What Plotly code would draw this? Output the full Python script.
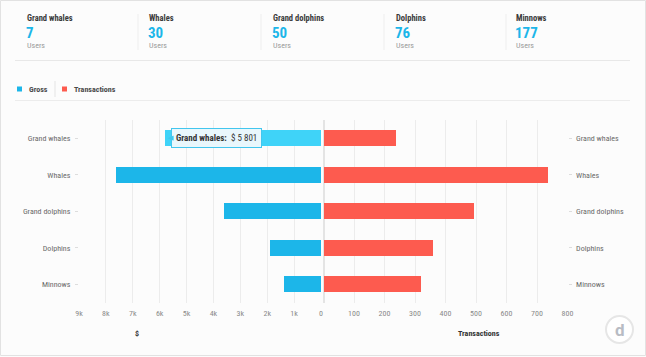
import plotly.graph_objects as go

categories = ["Grand whales", "Whales", "Grand dolphins", "Dolphins", "Minnows"]
users = [7, 30, 50, 76, 177]
gross = [5801, 7620, 3610, 1900, 1380]
transactions = [235, 734, 491, 356, 319]

gross_ticks = [9000, 8000, 7000, 6000, 5000, 4000, 3000, 2000, 1000, 0]
gross_ticktext = ["9k", "8k", "7k", "6k", "5k", "4k", "3k", "2k", "1k", "0"]
trans_ticks = [100, 200, 300, 400, 500, 600, 700, 800]

W, H = 646, 357
FONT = "Liberation Sans Narrow, Roboto Condensed, Roboto, sans-serif"
BLUE = "#1cb6e9"
BLUE_HOVER = "#3fd3f8"
RED = "#fd5b4f"

def px(x):
    return x / W

def py(y):
    return 1 - y / H

ydom = [py(302.5), py(120)]

fig = go.Figure()
fig.add_trace(go.Bar(
    y=categories, x=gross, orientation="h", xaxis="x", yaxis="y",
    marker=dict(color=[BLUE_HOVER] + [BLUE] * (len(gross) - 1), line=dict(width=0)),
    width=0.44, name="Gross", showlegend=False, hoverinfo="skip",
))
fig.add_trace(go.Bar(
    y=categories, x=transactions, orientation="h", xaxis="x2", yaxis="y2",
    marker=dict(color=RED, line=dict(width=0)),
    width=0.44, name="Transactions", showlegend=False, hoverinfo="skip",
))

tickfont = dict(family=FONT, size=8, color="#8a8a8a")
catfont = dict(family=FONT, size=8, color="#6a6a6a")

fig.update_layout(
    autosize=True,
    margin=dict(l=0, r=0, t=0, b=0, autoexpand=False),
    paper_bgcolor="#fcfcfc", plot_bgcolor="rgba(0,0,0,0)",
    bargap=0,
    xaxis=dict(domain=[px(79), px(321)], range=[9000, 0], anchor="y",
               tickvals=gross_ticks, ticktext=gross_ticktext, tickfont=tickfont,
               showgrid=True, gridcolor="#ececec", gridwidth=1, zeroline=False,
               showline=False, ticks="", ticklabelstandoff=4),
    xaxis2=dict(domain=[px(323.5), px(567.5)], range=[0, 800], anchor="y2",
                tickvals=trans_ticks, tickfont=tickfont,
                showgrid=True, gridcolor="#ececec", gridwidth=1, zeroline=True,
                zerolinecolor="#e4e4e4", showline=False, ticks="", ticklabelstandoff=4),
    yaxis=dict(domain=ydom, anchor="x", side="left", type="category",
               categoryorder="array", categoryarray=categories[::-1],
               tickfont=catfont, showgrid=False, zeroline=False,
               ticks="outside", ticklen=3, tickcolor="#dddddd", ticklabelstandoff=3),
    yaxis2=dict(domain=ydom, anchor="x2", side="right", type="category",
                categoryorder="array", categoryarray=categories[::-1],
                tickfont=catfont, showgrid=False, zeroline=False,
                ticks="outside", ticklen=3, tickcolor="#dddddd", ticklabelstandoff=3),
)

ann = []
shapes = []

# outer border
shapes.append(dict(type="rect", xref="paper", yref="paper", x0=px(0.5), x1=px(645.5),
                   y0=py(355.5), y1=py(0.5), line=dict(color="#e2e2e2", width=1)))

# header cards
col_x = [25, 147, 271, 394, 514]
for i, (cat, u) in enumerate(zip(categories, users)):
    ann.append(dict(xref="paper", yref="paper", x=px(col_x[i]), y=py(18), text="<b>" + cat + "</b>",
                    showarrow=False, xanchor="left", yanchor="middle",
                    font=dict(family=FONT, size=8.5, color="#3a3a3a")))
    ann.append(dict(xref="paper", yref="paper", x=px(col_x[i] - 1), y=py(33), text="<b>" + str(u) + "</b>",
                    showarrow=False, xanchor="left", yanchor="middle",
                    font=dict(family=FONT, size=15, color=BLUE)))
    ann.append(dict(xref="paper", yref="paper", x=px(col_x[i]), y=py(46), text="Users",
                    showarrow=False, xanchor="left", yanchor="middle",
                    font=dict(family=FONT, size=8, color="#9a9a9a")))
for sx in [138, 261, 384, 506]:
    shapes.append(dict(type="line", xref="paper", yref="paper", x0=px(sx), x1=px(sx),
                       y0=py(14), y1=py(50), line=dict(color="#eeeeee", width=1)))
shapes.append(dict(type="line", xref="paper", yref="paper", x0=px(15), x1=px(630),
                   y0=py(60.5), y1=py(60.5), line=dict(color="#e8e8e8", width=1)))

# legend
shapes.append(dict(type="rect", xref="paper", yref="paper", x0=px(17), x1=px(22),
                   y0=py(91.5), y1=py(86.5), fillcolor=BLUE, line=dict(width=0)))
ann.append(dict(xref="paper", yref="paper", x=px(27), y=py(89), text="<b>Gross</b>",
                showarrow=False, xanchor="left", yanchor="middle",
                font=dict(family=FONT, size=8, color="#4a4a4a")))
shapes.append(dict(type="line", xref="paper", yref="paper", x0=px(55), x1=px(55),
                   y0=py(81), y1=py(97), line=dict(color="#e4e4e4", width=1)))
shapes.append(dict(type="rect", xref="paper", yref="paper", x0=px(62), x1=px(67),
                   y0=py(91.5), y1=py(86.5), fillcolor=RED, line=dict(width=0)))
ann.append(dict(xref="paper", yref="paper", x=px(72), y=py(89), text="<b>Transactions</b>",
                showarrow=False, xanchor="left", yanchor="middle",
                font=dict(family=FONT, size=8, color="#4a4a4a")))
shapes.append(dict(type="line", xref="paper", yref="paper", x0=px(15), x1=px(630),
                   y0=py(100.5), y1=py(100.5), line=dict(color="#ececec", width=1)))

# axis titles
ann.append(dict(xref="paper", yref="paper", x=px(137), y=py(333), text="<b>$</b>",
                showarrow=False, xanchor="center", yanchor="middle",
                font=dict(family=FONT, size=8, color="#333333")))
ann.append(dict(xref="paper", yref="paper", x=px(479), y=py(333), text="<b>Transactions</b>",
                showarrow=False, xanchor="center", yanchor="middle",
                font=dict(family=FONT, size=8, color="#333333")))

# tooltip on hovered bar
ann.append(dict(xref="x", yref="y", x=gross[0], y=categories[0],
                text="<b>Grand whales:</b>  $ 5 801", showarrow=False,
                xanchor="left", yanchor="middle", xshift=6,
                bgcolor="#e9f7fc", bordercolor="#43c6ee", borderwidth=1, borderpad=4,
                font=dict(family=FONT, size=9, color="#333333")))
ann.append(dict(xref="x", yref="y", x=gross[0], y=categories[0],
                text="◀", showarrow=False, xanchor="left", yanchor="middle", xshift=1,
                font=dict(family="DejaVu Sans", size=7, color="#43c6ee")))

# logo
shapes.append(dict(type="circle", xref="paper", yref="paper", x0=px(606), x1=px(633),
                   y0=py(343), y1=py(316), fillcolor="#ffffff", line=dict(color="#e6e6e6", width=2)))
ann.append(dict(xref="paper", yref="paper", x=px(619.5), y=py(330), text="<b>d</b>",
                showarrow=False, xanchor="center", yanchor="middle",
                font=dict(family="Roboto", size=17, color="#b8bcc4")))

fig.update_layout(annotations=ann, shapes=shapes)

post = (
    "document.documentElement.style.height='100%';"
    "document.documentElement.style.margin='0';"
    "document.documentElement.style.overflow='hidden';"
    "document.body.style.height='100%';"
    "document.body.style.margin='0';"
    "document.body.style.padding='0';"
    "document.body.style.overflow='hidden';"
    "var gd=document.getElementById('{plot_id}');"
    "if(gd&&gd.parentElement){gd.parentElement.style.height='100%';gd.parentElement.style.width='100%';}"
    "Plotly.Plots.resize(gd);"
)
fig.write_html("out.html", default_width="100%", default_height="100%",
               config={"displayModeBar": False, "responsive": True},
               post_script=post)
